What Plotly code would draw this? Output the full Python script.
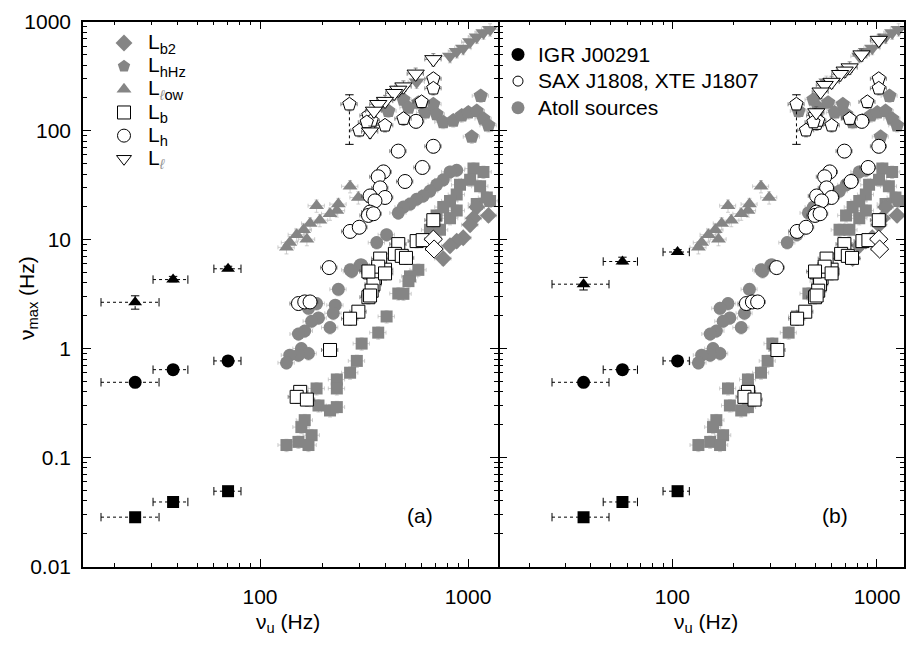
import plotly.graph_objects as go

# ===================== DATA (frequencies in Hz) =====================
# ---- Atoll sources (grey, identical in both panels) ----
atoll_lb_nu   = [577, 526, 517, 489, 462, 406, 370, 308, 292, 271, 234, 234, 187, 191, 217, 234, 164, 158, 177, 153, 134, 171,
                 1062, 1186, 1023, 1143, 915, 1231, 1276, 1101, 882, 819, 760, 706, 819, 882, 656, 733]
atoll_lb_nmax = [5.28, 4.6, 4.16, 3.18, 3.2, 1.97, 1.40, 1.11, 0.77, 0.60, 0.52, 0.43, 0.43, 0.30, 0.27, 0.29, 0.22, 0.19, 0.16, 0.139, 0.130, 0.130,
                 44.9, 41.9, 35.4, 30.9, 31.9, 24.4, 22.7, 21.2, 26.0, 22.7, 19.9, 16.7, 15.7, 18.5, 12.3, 12.3]

atoll_lh_nu   = [882, 819, 760, 706, 656, 609, 566, 526, 489, 462, 406, 364, 303, 271,
                 308, 276, 238, 230, 225, 217, 187, 171, 191, 177, 164, 153, 158, 171, 153, 139, 134]
atoll_lh_nmax = [43.4, 41.9, 35.4, 31.9, 27.9, 25.2, 23.5, 21.2, 19.9, 17.6, 11.1, 9.4, 5.85, 5.28,
                 5.85, 5.1, 3.5, 2.5, 2.11, 1.56, 2.59, 2.34, 1.91, 1.78, 1.45, 1.36, 1.0, 0.90, 0.87, 0.87, 0.74]

atoll_llow_nu   = [271, 297, 238, 234, 187, 217, 194, 174, 162, 150, 168, 139, 134]
atoll_llow_nmax = [30.9, 24.4, 21.2, 18.5, 20.5, 17.3, 15.1, 14.1, 12.3, 11.1, 10.1, 9.4, 8.5]

atoll_lb2_nu   = [1101, 1254, 1062, 1023, 948, 882, 819, 760]
atoll_lb2_nmax = [19.9, 16.7, 15.7, 13.7, 10.4, 9.7, 8.8, 6.7]

atoll_lhhz_nu   = [489, 517, 577, 621, 681, 706, 760, 849, 933, 1003, 1101, 1186, 1254, 1151, 1042, 414]
atoll_lhhz_nmax = [193, 163, 181, 147, 175, 142, 120, 124, 138, 147, 152, 129, 112, 209, 88, 152]

atoll_ll_nu   = [819, 882, 948, 1023, 1101, 1186, 1276, 566]
atoll_ll_nmax = [483, 535, 573, 656, 726, 794, 850, 281]

# ---- SAX J1808 / XTE J1807 (open symbols), panel (a) ----
sax_ll_nu_a   = [681, 560, 489, 462, 441, 399, 370, 353, 338]
sax_ll_nmax_a = [452, 333, 254, 237, 221, 187, 175, 152, 98]
sax_lhhz_nu_a   = [269, 681, 681, 598, 489, 399, 332, 300, 338, 344, 326]
sax_lhhz_nmax   = [175, 300, 245, 184, 129, 112, 138, 101, 116, 124, 120]
sax_lh_nu_a   = [562, 462, 681, 603, 392, 370, 378, 399, 338, 357, 338, 332, 351, 271, 300, 498, 215, 153, 164, 174]
sax_lh_nmax   = [122, 65, 72, 46, 41.9, 37.8, 29.9, 24.4, 25.2, 22.7, 17.9, 16.7, 17.3, 11.9, 13.0, 34.2, 5.54, 2.59, 2.68, 2.68]
sax_lb_nu_a   = [681, 462, 445, 480, 503, 566, 605, 378, 338, 370, 399, 357, 351, 344, 332, 370, 332, 399, 338, 297, 271, 217, 156, 150, 168]
sax_lb_nmax   = [15.1, 9.1, 7.4, 7.1, 6.8, 9.7, 9.9, 6.7, 5.0, 5.4, 5.3, 4.46, 3.89, 3.4, 2.96, 5.65, 5.1, 4.9, 3.07, 2.18, 1.88, 0.97, 0.40, 0.36, 0.34]
sax_lb2_nu_a   = [681, 687]
sax_lb2_nmax   = [10.1, 8.2]
# big error bar on first L_hHz point
sax_hhz_err_nu = [269]
sax_hhz_err_lo_a = [75]
sax_hhz_err_hi_a = [214]

# ---- SAX J1808 / XTE J1807, panel (b) (shifted frequencies) ----
sax_ll_nu_b   = [1020, 840, 735, 695, 660, 600, 555, 530, 505]
sax_ll_nmax_b = [680, 500, 380, 355, 330, 280, 262, 228, 147]
sax_lhhz_nu_b = [404, 1020, 1020, 897, 735, 600, 498, 450, 507, 516, 489]
sax_lh_nu_b   = [843, 693, 1020, 905, 588, 555, 567, 600, 507, 536, 507, 498, 527, 407, 450, 747, 323, 230, 246, 261]
sax_lb_nu_b   = [1020, 693, 668, 720, 755, 849, 908, 567, 507, 555, 600, 536, 527, 516, 498, 555, 498, 600, 507, 446, 407, 326, 234, 225, 252]
sax_lb2_nu_b  = [1020, 1030]
sax_hhz_err_nu_b = [404]

# ---- IGR J00291 (black) ----
igr_nu_a      = [25.1, 38.2, 70.2]
igr_nu_lo_a   = [17.2, 30.6, 60.0]
igr_nu_hi_a   = [32.7, 45.0, 81.0]
igr_nu_b      = [36.8, 57.0, 106.0]
igr_nu_lo_b   = [25.8, 45.9, 90.0]
igr_nu_hi_b   = [49.0, 67.5, 121.0]
igr_lb        = [0.0283, 0.039, 0.049]
igr_lh        = [0.49, 0.64, 0.77]
igr_llow_a    = [2.66, 4.3, 5.4]
igr_llow_lo_a = [2.3, 4.1, 5.2]
igr_llow_hi_a = [3.05, 4.6, 5.7]
igr_llow_b    = [3.9, 6.3, 7.7]
igr_llow_lo_b = [3.45, 6.0, 7.4]
igr_llow_hi_b = [4.5, 6.9, 8.1]

# legend labels
legend_a_names = ["L<sub>b2</sub>", "L<sub>hHz</sub>", "L<sub>{l}ow</sub>", "L<sub>b</sub>", "L<sub>h</sub>", "L<sub>{l}</sub>"]
legend_b_names = ["IGR J00291", "SAX J1808, XTE J1807", "Atoll sources"]

# ===================== FIGURE =====================
GRAY = '#858585'
ERR_G = '#b8b8b8'
FONT = 'Liberation Sans, Arial, sans-serif'

fig = go.Figure()


def pts(nu, nmax, xa, ya, symbol, size, fill, lcol, lw, ecol):
    fig.add_trace(go.Scatter(
        x=nu, y=nmax, xaxis=xa, yaxis=ya, mode='markers', showlegend=False, hoverinfo='skip',
        marker=dict(symbol=symbol, size=size, color=fill, line=dict(color=lcol, width=lw)),
        error_x=dict(type='percent', value=9, color=ecol, thickness=0.7, width=2),
        error_y=dict(type='percent', value=13, color=ecol, thickness=0.7, width=2)))


def hseg(lo, hi, y, xa, ya):
    xs, ys = [], []
    for a, b, c in zip(lo, hi, y):
        xs += [a, b, None]
        ys += [c, c, None]
    fig.add_trace(go.Scatter(x=xs, y=ys, xaxis=xa, yaxis=ya, mode='lines+markers', showlegend=False,
                             hoverinfo='skip', line=dict(color='black', width=1, dash='3px,3px'),
                             marker=dict(symbol='line-ns', size=6, line=dict(color='black', width=1))))


def vseg(x, lo, hi, xa, ya, col='black'):
    xs, ys = [], []
    for a, b, c in zip(x, lo, hi):
        xs += [a, a, None]
        ys += [b, c, None]
    fig.add_trace(go.Scatter(x=xs, y=ys, xaxis=xa, yaxis=ya, mode='lines+markers', showlegend=False,
                             hoverinfo='skip', line=dict(color=col, width=1, dash='3px,3px'),
                             marker=dict(symbol='line-ew', size=6, line=dict(color=col, width=1))))


for xa, ya, panel in (('x', 'y', 'a'), ('x2', 'y2', 'b')):
    # atolls
    pts(atoll_lb_nu, atoll_lb_nmax, xa, ya, 'square', 12, GRAY, GRAY, 0, ERR_G)
    pts(atoll_lh_nu, atoll_lh_nmax, xa, ya, 'circle', 13, GRAY, GRAY, 0, ERR_G)
    pts(atoll_llow_nu, atoll_llow_nmax, xa, ya, 'triangle-up', 13, GRAY, GRAY, 0, ERR_G)
    pts(atoll_lb2_nu, atoll_lb2_nmax, xa, ya, 'diamond', 13, GRAY, GRAY, 0, ERR_G)
    pts(atoll_lhhz_nu, atoll_lhhz_nmax, xa, ya, 'pentagon', 15, GRAY, GRAY, 0, ERR_G)
    pts(atoll_ll_nu, atoll_ll_nmax, xa, ya, 'triangle-down', 14, GRAY, GRAY, 0, ERR_G)
    if panel == 'a':
        ll_nu, ll_nm, hhz_nu, lh_nu, lb_nu, lb2_nu, en = (sax_ll_nu_a, sax_ll_nmax_a, sax_lhhz_nu_a,
                                                          sax_lh_nu_a, sax_lb_nu_a, sax_lb2_nu_a, sax_hhz_err_nu)
        inu, ilo, ihi = igr_nu_a, igr_nu_lo_a, igr_nu_hi_a
        tl, tlo, thi = igr_llow_a, igr_llow_lo_a, igr_llow_hi_a
    else:
        ll_nu, ll_nm, hhz_nu, lh_nu, lb_nu, lb2_nu, en = (sax_ll_nu_b, sax_ll_nmax_b, sax_lhhz_nu_b,
                                                          sax_lh_nu_b, sax_lb_nu_b, sax_lb2_nu_b, sax_hhz_err_nu_b)
        inu, ilo, ihi = igr_nu_b, igr_nu_lo_b, igr_nu_hi_b
        tl, tlo, thi = igr_llow_b, igr_llow_lo_b, igr_llow_hi_b
    # SAX / XTE
    vseg(en, sax_hhz_err_lo_a, sax_hhz_err_hi_a, xa, ya)
    pts(lb_nu, sax_lb_nmax, xa, ya, 'square', 13, 'white', 'black', 1, '#555')
    pts(lb2_nu, sax_lb2_nmax, xa, ya, 'diamond', 14, 'white', 'black', 1, '#555')
    pts(lh_nu, sax_lh_nmax, xa, ya, 'circle', 14, 'white', 'black', 1, '#555')
    pts(hhz_nu, sax_lhhz_nmax, xa, ya, 'pentagon', 14, 'white', 'black', 1, '#555')
    pts(ll_nu, ll_nm, xa, ya, 'triangle-down', 15, 'white', 'black', 1, '#555')
    # IGR J00291
    for yv in (igr_lb, igr_lh, tl):
        hseg(ilo, ihi, yv, xa, ya)
    vseg(inu, tlo, thi, xa, ya)
    for yv, sym, sz in ((igr_lb, 'square', 12), (igr_lh, 'circle', 13), (tl, 'triangle-up', 12)):
        fig.add_trace(go.Scatter(x=inu, y=yv, xaxis=xa, yaxis=ya, mode='markers', showlegend=False,
                                 hoverinfo='skip', marker=dict(symbol=sym, size=sz, color='black')))

# ---- legend entries ----
gl = "<span style='color:#999'><i>ℓ</i></span>"
leg_a_style = [('diamond', GRAY, GRAY, 0), ('pentagon', GRAY, GRAY, 0), ('triangle-up', GRAY, GRAY, 0),
               ('square', 'white', 'black', 1), ('circle', 'white', 'black', 1),
               ('triangle-down', 'white', 'black', 1)]
for name, (sym, fc, lc, lw) in zip(legend_a_names, leg_a_style):
    fig.add_trace(go.Scatter(x=[None], y=[None], xaxis='x', yaxis='y', mode='markers',
                             name="<span style='font-size:21px'>" + name.replace('{l}', gl) + "</span>",
                             legend='legend',
                             marker=dict(symbol=sym, size=13, color=fc, line=dict(color=lc, width=lw))))
leg_b_style = [('black', 'black', 0, 13), ('white', 'black', 1, 10), (GRAY, GRAY, 0, 13)]
for name, (fc, lc, lw, sz) in zip(legend_b_names, leg_b_style):
    fig.add_trace(go.Scatter(x=[None], y=[None], xaxis='x2', yaxis='y2', mode='markers',
                             name="<span style='font-size:21px'>" + name + "</span>",
                             legend='legend2',
                             marker=dict(symbol='circle', size=sz, color=fc, line=dict(color=lc, width=lw))))

# ---- axes ----
W, H = 907, 651
xminor = [m * 10 ** e for e in (1, 2) for m in range(2, 10)]
yminor = [m * 10.0 ** e for e in (-2, -1, 0, 1, 2) for m in range(2, 10)]
common = dict(type='log', showline=True, linecolor='black', linewidth=1.5, mirror='ticks',
              ticks='inside', ticklen=8, tickwidth=1, tickcolor='black', showgrid=False, zeroline=False,
              tickfont=dict(size=21, color='black', family=FONT), ticklabeloverflow='allow')
xcommon = dict(common, tickmode='array', tickvals=[100, 1000], ticktext=['100', '1000'],
               minor=dict(tickmode='array', tickvals=xminor, ticks='inside', ticklen=4, tickcolor='black',
                          showgrid=False),
               ticklabelstandoff=10)
ycommon = dict(common, range=[-2.002, 3.002], tickmode='array',
               tickvals=[0.01, 0.1, 1, 10, 100, 1000], ticktext=['0.01', '0.1', '1', '10', '100', '1000'],
               minor=dict(tickmode='array', tickvals=yminor, ticks='inside', ticklen=4, tickcolor='black',
                          showgrid=False),
               domain=[1 - 575 / H, 1 - 11 / H])

ann = dict(xref='paper', yref='paper', showarrow=False, xanchor='center', yanchor='middle',
           font=dict(size=21, family=FONT, color='black'))

fig.update_layout(
    width=W, height=H, margin=dict(l=0, r=0, t=0, b=0),
    paper_bgcolor='white', plot_bgcolor='white',
    font=dict(family=FONT, size=21, color='black'),
    xaxis=dict(xcommon, domain=[83 / W, 498 / W], range=[1.149, 3.144], anchor='y'),
    yaxis=dict(ycommon, anchor='x', ticklabelstandoff=6),
    xaxis2=dict(xcommon, domain=[499.5 / W, 904 / W], range=[1.155, 3.132], anchor='y2'),
    yaxis2=dict(ycommon, anchor='x2', showticklabels=False),
    showlegend=True,
    legend=dict(x=100 / W, y=1 - 16 / H, xanchor='left', yanchor='top', bgcolor='rgba(0,0,0,0)',
                font=dict(size=15.5, family=FONT, color='black'), tracegroupgap=0, itemwidth=38),
    legend2=dict(x=498 / W, y=1 - 26 / H, xanchor='left', yanchor='top', bgcolor='rgba(0,0,0,0)',
                 font=dict(size=18.2, family=FONT, color='black'), tracegroupgap=0),
    annotations=[
        dict(ann, text='(a)', x=420 / W, y=1 - 522 / H),
        dict(ann, text='(b)', x=835 / W, y=1 - 522 / H),
        dict(ann, text='ν<sub>u</sub> (Hz)', x=288 / W, y=1 - 633 / H),
        dict(ann, text='ν<sub>u</sub> (Hz)', x=706 / W, y=1 - 633 / H),
        dict(ann, text='ν<sub>max</sub> (Hz)', x=28 / W, y=1 - 297 / H, textangle=-90),
    ],
)

fig.write_html('out.html')
